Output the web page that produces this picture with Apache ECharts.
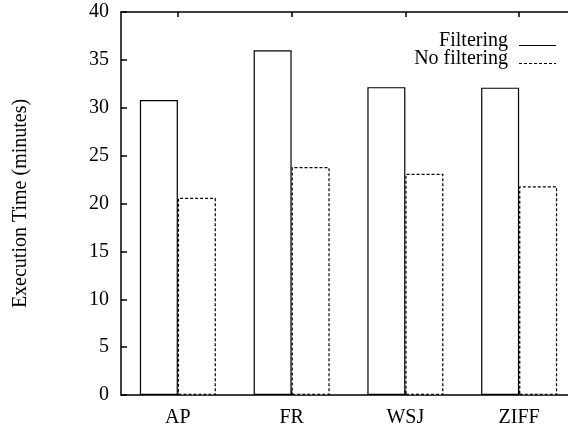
<!DOCTYPE html>
<html>
<head>
<meta charset="utf-8">
<script src="https://cdn.jsdelivr.net/npm/echarts@6/dist/echarts.min.js"></script>
<style>
html,body{margin:0;padding:0;background:#fff;}
#c{width:568px;height:428px;}
</style>
</head>
<body>
<div id="c"></div>
<script>
var categories = ['AP', 'FR', 'WSJ', 'ZIFF'];
var filtering = [30.8, 36.0, 32.15, 32.1];
var noFiltering = [20.6, 23.8, 23.1, 21.8];
var yTicks = [0, 5, 10, 15, 20, 25, 30, 35, 40];
var seriesNames = ['Filtering', 'No filtering'];
var yTitle = 'Execution Time (minutes)';

var FONT = "'Liberation Serif', 'DejaVu Serif', serif";
var chart = echarts.init(document.getElementById('c'), null, {renderer: 'canvas'});

function dashPath() {
  var p = 'path://M0,0h0.01v0.01h-0.01z';
  for (var x = 0; x < 37; x += 5) {
    var w = Math.min(3, 37 - x);
    p += ' M' + x + ',9h' + w + 'v1h-' + w + 'z';
  }
  return p;
}

var option = {
  backgroundColor: '#fff',
  animation: false,
  grid: {left: 121, top: 12, width: 455, height: 383, containLabel: false, outerBoundsMode: 'none'},
  legend: {
    orient: 'vertical',
    right: 7,
    top: 26,
    align: 'right',
    itemWidth: 37,
    itemHeight: 10,
    itemGap: -2,
    textStyle: {fontFamily: FONT, fontSize: 20, color: '#000', padding: [0, 6, 0, 0]},
    data: [
      {name: seriesNames[0], icon: 'path://M0,0h0.01v0.01h-0.01z M0,9h37v1h-37z', itemStyle: {color: '#000', borderWidth: 0}},
      {name: seriesNames[1], icon: dashPath(), itemStyle: {color: '#000', borderWidth: 0}}
    ]
  },
  xAxis: [
    {
      type: 'category',
      data: categories,
      position: 'bottom',
      axisLine: {lineStyle: {color: '#000', width: 1.5}},
      axisTick: {show: true, alignWithLabel: true, inside: true, length: 5, lineStyle: {color: '#000', width: 1.5}},
      axisLabel: {fontFamily: FONT, fontSize: 20, color: '#000', margin: 13},
      splitLine: {show: false}
    },
    {
      type: 'category',
      data: categories,
      position: 'top',
      axisLine: {lineStyle: {color: '#000', width: 1.5}},
      axisTick: {show: true, alignWithLabel: true, inside: true, length: 5, lineStyle: {color: '#000', width: 1.5}},
      axisLabel: {show: false},
      splitLine: {show: false}
    }
  ],
  yAxis: {
    type: 'value',
    min: 0,
    max: 40,
    interval: 5,
    name: yTitle,
    nameLocation: 'middle',
    nameGap: 90,
    nameTextStyle: {fontFamily: FONT, fontSize: 20, color: '#000'},
    axisLine: {show: true, lineStyle: {color: '#000', width: 1.5}},
    axisTick: {show: true, inside: true, length: 6, lineStyle: {color: '#000', width: 1.5}},
    axisLabel: {
      fontFamily: FONT, fontSize: 20, color: '#000', margin: 12,
      formatter: function (v) { return yTicks.indexOf(v) >= 0 ? String(v) : ''; }
    },
    splitLine: {show: false}
  },
  series: [
    {
      name: seriesNames[0],
      type: 'bar',
      xAxisIndex: 0,
      data: filtering,
      barWidth: 38,
      barGap: '0%',
      itemStyle: {color: '#fff', borderColor: '#000', borderWidth: 1.2}
    },
    {
      name: seriesNames[1],
      type: 'bar',
      xAxisIndex: 0,
      data: noFiltering,
      barWidth: 38,
      barGap: '0%',
      itemStyle: {color: '#fff', borderColor: '#000', borderWidth: 1.2, borderType: [3, 2]}
    }
  ]
};
chart.setOption(option);
</script>
</body>
</html>
